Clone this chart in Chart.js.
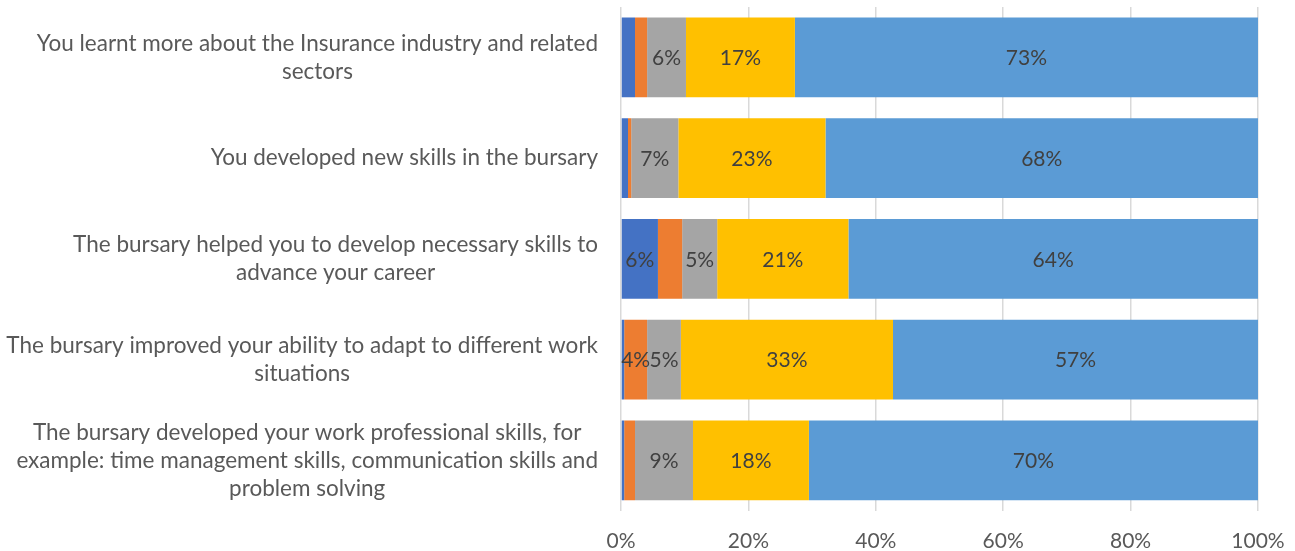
<!DOCTYPE html>
<html>
<head>
<meta charset="utf-8">
<script src="https://cdn.jsdelivr.net/npm/chart.js@4.4.1/dist/chart.umd.min.js"></script>
<style>
  html, body { margin: 0; padding: 0; background: #fff; }
  #wrap { width: 1295px; height: 551px; position: relative; }
</style>
</head>
<body>
<div id="wrap"><canvas id="barChart"></canvas></div>
<script>
const categories = [
    ["You learnt more about the Insurance industry and related", "sectors"],
    ["You developed new skills in the bursary"],
    ["The bursary helped you to develop necessary skills to", "advance your career"],
    ["The bursary improved your ability to adapt to different work", "situations"],
    ["The bursary developed your work professional skills, for", "example: time management skills, communication skills and", "problem solving"]
];

// percentages per answer, one value per category
const series1 = [2.2, 1.1, 5.8, 0.5, 0.5];
const series2 = [1.9, 0.5, 3.8, 3.6, 1.7];
const series3 = [6.1, 7.4, 5.5, 5.3, 9.1];
const series4 = [17.1, 23.1, 20.6, 33.3, 18.2];
const series5 = [72.7, 67.9, 64.3, 57.3, 70.5];

// which segment labels are printed on the bars
const labels1 = ["", "", "6%", "", ""];
const labels2 = ["", "", "", "4%", ""];
const labels3 = ["6%", "7%", "5%", "5%", "9%"];
const labels4 = ["17%", "23%", "21%", "33%", "18%"];
const labels5 = ["73%", "68%", "64%", "57%", "70%"];

const xTicks = ["0%", "20%", "40%", "60%", "80%", "100%"];

const FONT = "Lato, 'Open Sans', sans-serif";

// text inside the bars
const segmentLabelPlugin = {
    id: 'segmentLabels',
    afterDatasetsDraw(chart) {
        const ctx = chart.ctx;
        ctx.save();
        ctx.font = '21px ' + FONT;
        ctx.fillStyle = '#404040';
        ctx.textAlign = 'center';
        ctx.textBaseline = 'middle';
        chart.data.datasets.forEach((ds, di) => {
            const meta = chart.getDatasetMeta(di);
            meta.data.forEach((bar, i) => {
                const txt = ds.segmentLabels[i];
                if (!txt) return;
                const cx = (bar.x + bar.base) / 2;
                ctx.fillText(txt, cx, bar.y + 1);
            });
        });
        ctx.restore();
    }
};

// multi-line category labels: block right aligned, lines centred inside block
const categoryLabelPlugin = {
    id: 'categoryLabels',
    afterDraw(chart) {
        const ctx = chart.ctx;
        const yScale = chart.scales.y;
        const right = chart.chartArea.left - 23;
        const lineH = 28;
        ctx.save();
        ctx.font = '22.5px ' + FONT;
        ctx.fillStyle = '#595959';
        ctx.textAlign = 'center';
        ctx.textBaseline = 'middle';
        categories.forEach((lines, i) => {
            const y = yScale.getPixelForValue(i);
            const w = Math.max(...lines.map(l => ctx.measureText(l).width));
            const cx = right - w / 2;
            const top = y - (lines.length - 1) * lineH / 2;
            lines.forEach((l, k) => ctx.fillText(l, cx, top + k * lineH));
        });
        ctx.restore();
    }
};

const ctx = document.getElementById('barChart').getContext('2d');
new Chart(ctx, {
    type: 'bar',
    data: {
        labels: categories.map(c => c.join(' ')),
        datasets: [
            { data: series1, backgroundColor: '#4472C4', segmentLabels: labels1 },
            { data: series2, backgroundColor: '#ED7D31', segmentLabels: labels2 },
            { data: series3, backgroundColor: '#A5A5A5', segmentLabels: labels3 },
            { data: series4, backgroundColor: '#FFC000', segmentLabels: labels4 },
            { data: series5, backgroundColor: '#5B9BD5', segmentLabels: labels5 }
        ]
    },
    options: {
        indexAxis: 'y',
        responsive: true,
        maintainAspectRatio: false,
        animation: false,
        layout: {
            padding: { left: 621, right: 37, top: 7, bottom: -21 }
        },
        datasets: {
            bar: {
                categoryPercentage: 1,
                barPercentage: 0.79,
                borderWidth: 0
            }
        },
        plugins: {
            legend: { display: false },
            tooltip: { enabled: false }
        },
        scales: {
            x: {
                stacked: true,
                min: 0,
                max: 100,
                border: { display: false },
                grid: { color: '#D9D9D9', lineWidth: 1.5, drawTicks: false },
                afterFit: scale => { scale.paddingRight = 0; scale.paddingLeft = 0; },
                ticks: {
                    stepSize: 20,
                    padding: 18,
                    maxRotation: 0,
                    minRotation: 0,
                    color: '#595959',
                    font: { size: 21, family: FONT },
                    callback: (v, i) => xTicks[i]
                }
            },
            y: {
                display: false,
                stacked: true
            }
        }
    },
    plugins: [segmentLabelPlugin, categoryLabelPlugin]
});
</script>
</body>
</html>
